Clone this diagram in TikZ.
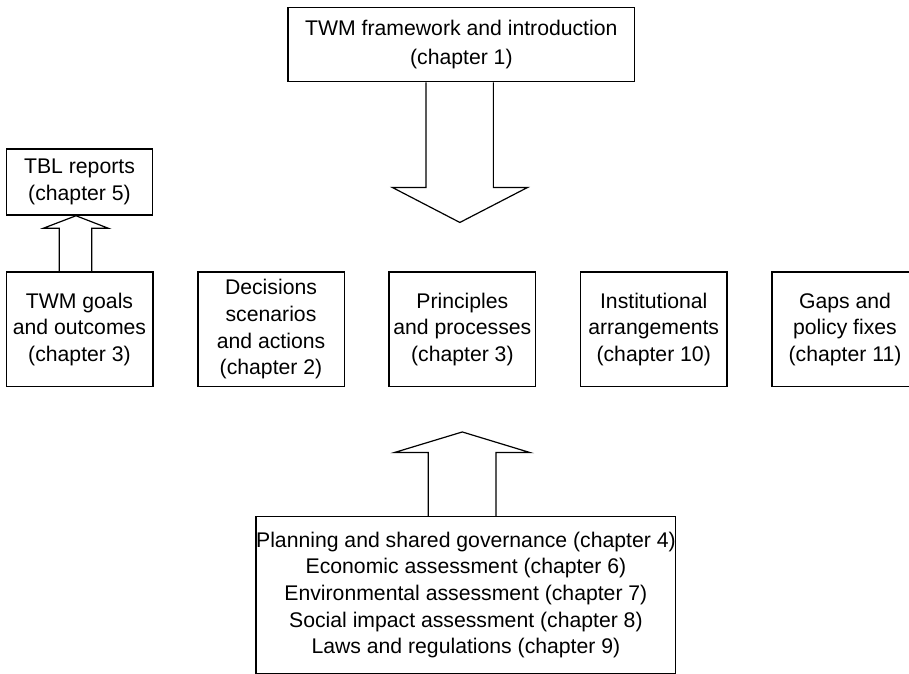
\documentclass[tikz,border=0pt]{standalone}
\usepackage{fontspec}
\setmainfont{Liberation Sans}
\usetikzlibrary{calc}
\begin{document}
\begin{tikzpicture}[x=1pt,y=-1pt,
  box/.style={draw=black, line width=1.5pt, inner sep=0pt, align=center,
    font=\fontsize{21.2}{26.7}\selectfont},
  rowbox/.style={box, minimum width=146.5pt, minimum height=114.7pt},
  blockarrow/.style={draw=black, line width=1.2pt, line join=miter}]
\clip (0,0) rectangle (909,673);

% boxes
\node[box, minimum width=346.7pt, minimum height=74.4pt,
      font=\fontsize{21.2}{29.5}\selectfont] (top) at (461.35,44.5)
  {TWM framework and introduction\\(chapter 1)};
\node[box, minimum width=146.4pt, minimum height=66pt] (tbl) at (79.5,182)
  {TBL reports\\(chapter 5)};
\node[rowbox] (goals) at (79.5,329.35) {TWM goals\\and outcomes\\(chapter 3)};
\node[rowbox] (decisions) at (271,329.35) {Decisions\\scenarios\\and actions\\(chapter 2)};
\node[rowbox] (principles) at (462.35,329.35) {Principles\\and processes\\(chapter 3)};
\node[rowbox] (institutional) at (653.7,329.35) {Institutional\\arrangements\\(chapter 10)};
\node[rowbox] (gaps) at (845,329.35) {Gaps and\\policy fixes\\(chapter 11)};
\node[box, minimum width=418.3pt, minimum height=156.6pt] (tools) at (465.9,595)
  {Planning and shared governance (chapter 4)\\
   Economic assessment (chapter 6)\\
   Environmental assessment (chapter 7)\\
   Social impact assessment (chapter 8)\\
   Laws and regulations (chapter 9)};

% framework feeds down into the principles
\draw[blockarrow] ($(top.south)+(-35.3,0)$) -- ($(top.south)+(-35.3,105)$)
  -- ($(top.south)+(-69,105)$) -- ($(top.south)+(-1.5,140)$)
  -- ($(top.south)+(66.2,105)$) -- ($(top.south)+(32,105)$)
  -- ($(top.south)+(32,0)$);

% tools feed up into the principles
\draw[blockarrow] ($(tools.north)+(-37.6,0)$) -- ($(tools.north)+(-37.6,-63.4)$)
  -- ($(tools.north)+(-71.6,-63.4)$) -- ($(tools.north)+(-3.6,-84)$)
  -- ($(tools.north)+(64.1,-63.4)$) -- ($(tools.north)+(30.1,-63.4)$)
  -- ($(tools.north)+(30.1,0)$);

% goals reported upward
\draw[blockarrow] ($(goals.north)+(-20.2,0)$) -- ($(goals.north)+(-20.2,-43)$)
  -- ($(goals.north)+(-36.2,-43)$) -- (tbl.south -| {$(goals.north)+(-3.5,0)$})
  -- ($(goals.north)+(28.8,-43)$) -- ($(goals.north)+(12.2,-43)$)
  -- ($(goals.north)+(12.2,0)$);
\end{tikzpicture}
\end{document}
